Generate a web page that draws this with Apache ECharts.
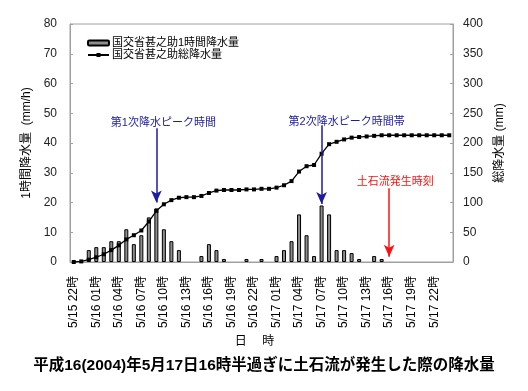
<!DOCTYPE html>
<html><head><meta charset="utf-8">
<script src="https://cdn.jsdelivr.net/npm/echarts@6/dist/echarts.min.js"></script>
<style>html,body{margin:0;padding:0;background:#fff}#c{width:528px;height:391px}</style>
</head><body><div id="c"></div>
<script>
const categories = ['5/15 22時','5/15 23時','5/16 00時','5/16 01時','5/16 02時','5/16 03時','5/16 04時','5/16 05時','5/16 06時','5/16 07時','5/16 08時','5/16 09時','5/16 10時','5/16 11時','5/16 12時','5/16 13時','5/16 14時','5/16 15時','5/16 16時','5/16 17時','5/16 18時','5/16 19時','5/16 20時','5/16 21時','5/16 22時','5/16 23時','5/17 00時','5/17 01時','5/17 02時','5/17 03時','5/17 04時','5/17 05時','5/17 06時','5/17 07時','5/17 08時','5/17 09時','5/17 10時','5/17 11時','5/17 12時','5/17 13時','5/17 14時','5/17 15時','5/17 16時','5/17 17時','5/17 18時','5/17 19時','5/17 20時','5/17 21時','5/17 22時','5/17 23時','5/18 00時'];
const hourlyRain = [0,0,4,5,5,7,7,11,6,9,15,18,11,7,4,0,0,2,6,4,1,0,0,1,0,1,0,2,4,7,16,9,2,19,16,4,4,3,1,0,2,1,0,0,0,0,0,0,0,0,0];
const totalRain = [0,1,4,8,13,20,28,38,45,53,68,86,97,104,108,109,109,111,116,120,121,121,121,122,122,123,123,125,129,136,152,161,163,182,198,202,206,209,210,211,212,213,213,213,213,213,213,213,213,213,213];
const leftTicks = [0,80,10];
const rightTicks = [0,400,50];
const seriesNames = ['国交省甚之助1時間降水量','国交省甚之助総降水量'];
const peak1 = {cat:'5/16 09時', from:45, to:20, textAt:46.8, text:'第1次降水ピーク時間'};
const peak2 = {cat:'5/17 07時', from:46, to:19.5, textAt:47.2, text:'第2次降水ピーク時間帯'};
const slide = {cat:'5/17 16時', from:24.8, to:1.8, textAt:27, text:'土石流発生時刻'};
const captionText = '平成16(2004)年5月17日16時半過ぎに土石流が発生した際の降水量';

const FONT = '"Liberation Sans", Arial, "Noto Sans CJK JP", sans-serif';
const BLUE = '#1c1ca0', RED = '#ff1010', AX = '#a0a0a0';
const chart = echarts.init(document.getElementById('c'), null, {renderer:'canvas'});

function arrow(p){
  return [[{coord:[p.cat,p.from]},{coord:[p.cat,p.to]}]];
}
function note(p, color, dx){
  return {coord:[p.cat,p.textAt], symbol:'rect', symbolSize:1, itemStyle:{color:'rgba(0,0,0,0)'},
    label:{show:true, position:'inside', offset:[dx,0], formatter:p.text, color:color, fontSize:11, fontFamily:FONT}};
}

chart.setOption({
  animation:false,
  textStyle:{fontFamily:FONT},
  title:{text:captionText, left:'center', top:353, textStyle:{fontSize:15.5, fontWeight:'bold', color:'#000', fontFamily:FONT}},
  legend:{orient:'vertical', left:87, top:37, padding:0, itemWidth:21, itemHeight:5, itemGap:0,
    textStyle:{fontSize:11, lineHeight:12, color:'#000', fontFamily:FONT, padding:[0,0,0,-2]}, data:seriesNames},
  grid:{left:70, right:75, top:24, bottom:129, show:true, borderColor:AX, borderWidth:1},
  xAxis:{type:'category', data:categories, boundaryGap:true,
    axisLine:{lineStyle:{color:AX}},
    axisTick:{inside:true, length:4, interval:2, lineStyle:{color:AX}},
    axisLabel:{interval:2, rotate:90, fontSize:12, color:'#000', margin:14, fontFamily:FONT},
    name:'日　 時', nameLocation:'middle', nameGap:16,
    nameTextStyle:{fontSize:12, color:'#000', fontFamily:FONT, padding:[0,14,0,0]}},
  yAxis:[
    {type:'value', min:leftTicks[0], max:leftTicks[1], interval:leftTicks[2],
     axisLine:{show:true, lineStyle:{color:AX}}, axisTick:{show:true, inside:true, length:3, lineStyle:{color:AX}},
     splitLine:{show:false}, axisLabel:{fontSize:12, color:'#222', margin:13},
     name:'1時間降水量  (mm/h)', nameLocation:'middle', nameRotate:90, nameGap:25,
     nameTextStyle:{fontSize:12, color:'#000', fontFamily:FONT}},
    {type:'value', min:rightTicks[0], max:rightTicks[1], interval:rightTicks[2], position:'right',
     axisLine:{show:true, lineStyle:{color:AX}}, axisTick:{show:true, inside:true, length:3, lineStyle:{color:AX}},
     splitLine:{show:false}, axisLabel:{fontSize:12, color:'#222', margin:10},
     name:'総降水量 (mm)', nameLocation:'middle', nameRotate:90, nameGap:33,
     nameTextStyle:{fontSize:12, color:'#000', fontFamily:FONT}}
  ],
  series:[
    {name:seriesNames[0], type:'bar', data:hourlyRain.map(v => v === 0 ? '-' : v), yAxisIndex:0, barWidth:4,
     itemStyle:{color:'#8e8e8e', borderColor:'#000', borderWidth:1}, emphasis:{disabled:true},
     markLine:{silent:true, symbol:['none','arrow'], symbolSize:[8,12], label:{show:false},
       data:[].concat(arrow(peak1),arrow(peak2)), lineStyle:{color:BLUE, width:1.5, type:'solid'}},
     markPoint:{silent:true, data:[note(peak1,BLUE,7), note(peak2,BLUE,25)]}},
    {name:seriesNames[1], type:'line', data:totalRain, yAxisIndex:1, symbol:'rect', symbolSize:4, showAllSymbol:true,
     lineStyle:{color:'#000', width:1.3}, itemStyle:{color:'#000'}, emphasis:{disabled:true},
     markLine:{silent:true, symbol:['none','arrow'], symbolSize:[8,12], label:{show:false},
       data:arrow({cat:slide.cat, from:slide.from*5, to:slide.to*5}), lineStyle:{color:RED, width:1.5, type:'solid'}},
     markPoint:{silent:true, data:[note({cat:slide.cat, textAt:slide.textAt*5, text:slide.text}, RED, 6)]}}
  ]
});
</script></body></html>
